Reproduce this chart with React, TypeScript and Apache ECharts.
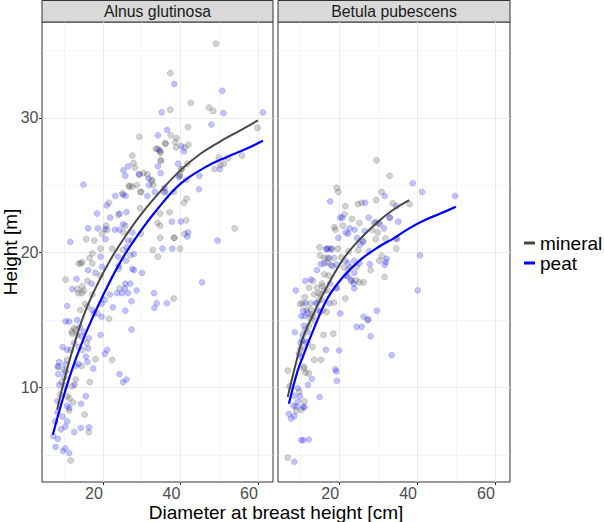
import React, { useEffect, useRef } from "react";
import * as echarts from "echarts";

// Facet titles and soil groups
const panels = ["Alnus glutinosa", "Betula pubescens"];
const soils = ["mineral", "peat"];

// Tick positions
const xTicks = [20, 40, 60];
const yTicks = [10, 20, 30];

// Individual trees: [diameter at breast height (cm), height (m)]
const alnusMineral = [
  [49.2, 35.5], [37.4, 33.3], [42.7, 31.1], [37.4, 30.6], [47.4, 30.75], [48.5, 30.5], [42.0, 29.3], [29.4, 28.6],
  [37.5, 28.7], [59.9, 29.25], [36.1, 28.1], [38.7, 28.2], [38.9, 27.8], [41.1, 27.8], [33.7, 27.7], [55.9, 27.2],
  [52.3, 27.0], [51.2, 26.6], [41.6, 24.0], [40.9, 23.7], [41.5, 22.4], [41.1, 21.4], [54.0, 21.8], [39.9, 20.3],
  [38.5, 21.1], [37.2, 23.0], [39.0, 28.5], [42.1, 28.0], [36.2, 28.1], [34.1, 27.7], [34.8, 27.5], [35.0, 26.8],
  [40.2, 26.2], [39.9, 25.8], [27.6, 27.2], [27.9, 26.65], [28.3, 26.3], [29.3, 25.8], [30.5, 25.9], [31.5, 25.8],
  [32.6, 25.4], [33.0, 25.0], [26.9, 24.95], [27.6, 24.9], [28.8, 25.0], [29.7, 24.5], [35.8, 24.5], [29.6, 23.3],
  [21.6, 23.7], [25.0, 24.4], [34.8, 22.9], [34.1, 22.2], [34.8, 22.0], [34.8, 21.1], [38.3, 21.1], [34.2, 19.7],
  [32.9, 20.2], [27.5, 20.9], [25.3, 21.5], [29.8, 21.4], [19.8, 21.4], [21.1, 21.7], [17.8, 20.9], [25.2, 20.2],
  [15.7, 21.0], [16.5, 19.6], [32.7, 25.3], [26.7, 24.9], [29.9, 24.5], [24.0, 22.8], [20.9, 22.0], [25.8, 22.0],
  [22.4, 20.3], [19.4, 20.3], [17.3, 19.95], [27.1, 19.8], [34.9, 27.4], [34.9, 26.85], [41.8, 26.6], [40.4, 26.2],
  [39.8, 25.7], [41.5, 25.4], [49.9, 27.05], [48.8, 26.2], [50.3, 26.5], [38.3, 24.5], [10.4, 18.0], [13.4, 17.3],
  [13.7, 17.0], [15.1, 17.2], [14.7, 17.5], [16.0, 17.9], [14.3, 19.2], [14.7, 19.3], [17.3, 19.2], [19.4, 18.3],
  [24.1, 18.8], [24.3, 17.35], [17.3, 16.9], [15.4, 16.2], [16.0, 16.0], [21.6, 15.1], [18.6, 15.5], [12.6, 14.4],
  [13.0, 14.3], [11.96, 14.15], [12.1, 14.0], [13.4, 13.9], [15.8, 13.3], [13.8, 13.0], [14.7, 12.8], [11.7, 12.8],
  [18.1, 12.1], [22.4, 12.05], [14.5, 11.6], [9.4, 10.4], [13.0, 10.6], [12.1, 10.1], [16.6, 10.4], [10.8, 9.35],
  [11.4, 9.2], [12.3, 8.9], [11.3, 8.3], [15.3, 8.0], [16.4, 6.7], [11.7, 4.6], [38.3, 16.6], [10.8, 12.05],
  [9.9, 11.3], [8.6, 11.55], [9.0, 9.5], [10.3, 10.1], [14.2, 15.75], [14.6, 17.0], [13.8, 19.2],
];

const alnusPeat = [
  [38.4, 32.5], [50.8, 32.0], [35.2, 30.4], [51.1, 30.35], [61.3, 30.4], [48.0, 29.5], [36.6, 29.1], [34.2, 28.7],
  [40.2, 27.9], [34.6, 27.6], [50.2, 26.2], [44.9, 25.7], [44.8, 24.7], [40.1, 22.3], [42.0, 21.5], [41.8, 21.2],
  [49.6, 20.9], [37.9, 20.3], [40.9, 27.5], [34.2, 26.4], [34.9, 25.9], [39.4, 26.6], [39.6, 25.6], [25.3, 26.1],
  [31.8, 25.5], [33.4, 24.5], [31.9, 25.0], [31.5, 24.2], [35.9, 24.8], [25.8, 25.7], [25.9, 24.2], [21.0, 23.5],
  [23.2, 24.2], [15.0, 25.05], [18.5, 22.9], [21.9, 22.6], [24.3, 22.9], [26.1, 23.0], [37.8, 22.3], [35.4, 20.3],
  [25.2, 22.1], [20.6, 21.75], [18.7, 21.8], [23.1, 21.7], [26.5, 20.9], [26.2, 20.4], [16.2, 21.8], [11.6, 20.8],
  [26.5, 26.4], [29.4, 25.8], [25.2, 24.3], [24.3, 21.7], [27.6, 21.5], [20.7, 21.0], [19.4, 19.7], [23.9, 19.7],
  [26.0, 19.4], [28.0, 19.9], [36.1, 24.5], [10.8, 16.05], [12.1, 17.3], [13.2, 18.05], [17.1, 17.7], [16.2, 18.7],
  [18.1, 18.5], [19.8, 18.95], [24.1, 19.0], [27.6, 18.8], [28.0, 18.7], [30.1, 18.5], [25.8, 17.7], [27.1, 17.7],
  [25.7, 17.35], [28.7, 17.2], [23.7, 17.0], [25.0, 17.0], [26.5, 17.0], [21.8, 16.9], [27.4, 16.4], [19.7, 16.2],
  [20.5, 16.5], [22.6, 15.95], [25.8, 15.7], [27.4, 14.3], [17.3, 15.75], [17.7, 15.5], [19.7, 15.25], [10.4, 14.9],
  [11.3, 14.9], [13.4, 15.0], [14.1, 14.5], [15.0, 14.15], [14.5, 13.8], [16.4, 13.65], [19.4, 13.9], [12.6, 13.3],
  [9.6, 13.0], [10.8, 12.8], [16.2, 12.9], [21.1, 12.8], [20.5, 12.5], [15.6, 12.3], [16.0, 11.9], [8.7, 11.9],
  [8.3, 11.55], [10.3, 11.7], [13.0, 11.6], [13.7, 11.75], [17.5, 11.4], [8.5, 11.0], [8.7, 10.2], [10.0, 10.8],
  [10.4, 11.2], [12.7, 10.2], [15.6, 9.35], [8.3, 9.0], [14.4, 8.8], [10.8, 8.65], [11.3, 8.5], [9.6, 7.85],
  [8.3, 8.15], [7.7, 7.5], [10.8, 7.5], [10.3, 7.1], [9.2, 6.9], [12.6, 6.7], [14.3, 7.0], [16.4, 7.05],
  [8.4, 6.2], [7.8, 5.6], [9.7, 5.3], [10.3, 5.5], [11.3, 5.15], [7.2, 6.4], [24.3, 11.0], [25.2, 10.4],
  [26.1, 10.6], [45.6, 17.8], [33.2, 17.0], [33.9, 16.25], [33.3, 15.9], [36.5, 16.25],
];

const betulaMineral = [
  [29.6, 26.85], [33.0, 25.7], [19.4, 24.8], [19.8, 24.5], [21.6, 23.45], [24.8, 23.6], [25.8, 23.7], [29.5, 23.9],
  [30.9, 24.5], [33.8, 23.65], [38.1, 23.6], [21.4, 22.85], [18.8, 21.9], [23.3, 22.5], [25.2, 22.2], [28.5, 21.7],
  [30.4, 22.1], [33.0, 22.6], [31.9, 21.05], [29.4, 21.0], [34.7, 20.3], [15.0, 20.4], [19.7, 20.3], [19.0, 21.7],
  [21.0, 22.0], [29.0, 22.2], [29.9, 21.5], [26.0, 20.9], [34.6, 21.05], [24.9, 20.2], [15.1, 19.8], [17.3, 20.3],
  [18.1, 20.25], [22.4, 20.1], [31.0, 19.75], [16.2, 19.6], [17.0, 19.6], [18.7, 19.6], [20.6, 19.65], [17.0, 19.25],
  [17.9, 19.1], [22.9, 18.9], [24.5, 18.95], [30.3, 19.4], [28.1, 18.7], [21.2, 18.9], [22.3, 18.7], [16.2, 18.4],
  [17.3, 18.3], [31.7, 18.2], [23.2, 17.9], [24.3, 17.95], [13.3, 17.9], [25.2, 17.8], [26.3, 17.8], [12.3, 17.4],
  [14.3, 17.4], [15.6, 17.7], [15.7, 17.5], [16.2, 17.2], [17.0, 17.2], [19.2, 17.35], [11.2, 16.7], [13.6, 16.9],
  [14.7, 17.0], [15.3, 16.9], [14.9, 16.5], [15.6, 16.5], [10.0, 16.2], [10.6, 16.25], [12.6, 16.25], [15.9, 15.75],
  [16.8, 15.6], [18.7, 16.3], [21.6, 16.6], [11.7, 15.75], [12.7, 15.8], [12.9, 15.4], [13.4, 15.3], [12.6, 15.1],
  [13.8, 14.9], [12.3, 14.6], [11.2, 14.3], [27.3, 15.0], [16.0, 13.9], [18.5, 14.0], [11.9, 13.3], [13.2, 13.0],
  [10.0, 12.85], [11.0, 12.9], [13.6, 12.05], [15.3, 12.05], [11.0, 11.55], [6.8, 11.25], [9.8, 9.7], [11.1, 8.96],
  [9.0, 8.3], [10.3, 8.35], [11.4, 11.1], [12.2, 11.05], [10.9, 11.4], [6.8, 4.8],
];

const betulaPeat = [
  [38.9, 25.15], [41.3, 24.5], [49.8, 24.2], [17.7, 23.8], [26.7, 23.7], [31.7, 24.2], [34.7, 23.45], [20.3, 22.6],
  [20.8, 22.6], [22.7, 21.8], [24.0, 21.7], [27.6, 22.6], [29.4, 22.25], [31.5, 21.8], [35.2, 22.3], [19.8, 21.1],
  [24.6, 21.1], [34.9, 21.0], [16.7, 20.3], [18.0, 20.3], [30.2, 22.2], [33.0, 22.6], [21.7, 21.5], [22.3, 21.4],
  [26.6, 21.6], [25.4, 20.6], [26.2, 20.8], [16.8, 20.25], [27.7, 20.1], [32.2, 19.55], [40.8, 19.8], [17.5, 19.6],
  [15.3, 19.15], [16.2, 19.2], [18.3, 19.0], [19.4, 19.1], [21.6, 19.4], [22.3, 19.2], [23.9, 19.4], [25.2, 19.2],
  [27.9, 19.15], [31.7, 19.1], [32.0, 19.3], [14.3, 18.7], [21.7, 18.3], [22.2, 18.25], [23.9, 18.5], [23.0, 18.0],
  [11.3, 17.9], [12.7, 18.0], [23.7, 17.7], [40.2, 17.2], [8.9, 17.2], [17.7, 17.7], [19.4, 17.4], [23.9, 17.35],
  [11.4, 16.25], [14.0, 16.25], [14.4, 16.25], [17.5, 16.25], [20.3, 15.5], [14.4, 15.75], [15.1, 15.6], [10.8, 15.7],
  [11.2, 15.3], [10.3, 15.3], [11.9, 15.5], [11.0, 14.6], [8.6, 14.1], [11.9, 14.15], [10.7, 13.9], [29.7, 15.7],
  [26.3, 15.25], [27.5, 15.05], [24.5, 14.5], [25.8, 14.5], [28.1, 13.8], [20.0, 12.75], [16.6, 12.8], [10.5, 13.5],
  [10.1, 13.3], [11.4, 13.4], [9.7, 12.5], [10.2, 12.3], [19.0, 11.35], [33.5, 12.4], [7.25, 10.1], [9.4, 9.95],
  [8.5, 9.4], [10.0, 9.35], [9.4, 8.96], [8.3, 8.65], [9.0, 8.6], [10.7, 8.55], [11.1, 8.55], [7.1, 8.05],
  [7.7, 7.7], [8.5, 7.9], [10.3, 6.1], [10.8, 6.1], [12.2, 6.15], [8.5, 4.5], [12.0, 10.2], [13.0, 10.65],
  [15.0, 9.3], [19.3, 11.2], [19.4, 10.5],
];

// Fitted height curves per soil group: [diameter (cm), height (m)]
const alnusMineralFit = [
  [8.2, 8.35], [10, 10.5], [12, 12.6], [15, 15.3], [18.5, 17.6], [22, 19.5], [26, 21.3], [30, 22.9],
  [35, 24.6], [40, 26.1], [45, 27.3], [50, 28.2], [55, 29.0], [60, 29.8],
];
const alnusPeatFit = [
  [7.1, 6.5], [9, 8.5], [11, 10.4], [13, 12.1], [16, 14.3], [20, 16.8], [24.5, 19.3], [29, 21.3],
  [34, 23.2], [40, 25.1], [46.8, 26.4], [52, 27.1], [57, 27.7], [61.3, 28.3],
];
const betulaMineralFit = [
  [6.8, 9.3], [8.9, 11.8], [10.7, 13.7], [13, 15.2], [16, 17.0], [21, 19.5], [25, 20.9], [30, 22.3],
  [34, 23.2], [38, 23.9],
];
const betulaPeatFit = [
  [7.1, 8.8], [9.3, 11.2], [10.7, 12.3], [13, 14.0], [17, 16.6], [21, 18.2], [25.6, 19.5], [30, 20.4],
  [34.2, 21.1], [38, 21.8], [41.9, 22.4], [46, 22.9], [50, 23.4],
];

const FONT = "'Liberation Sans', Arial, Helvetica, sans-serif";
const MINERAL_LINE = "#474747";
const PEAT_LINE = "#0000ff";

const gridRects = [
  { left: 42, top: 22, width: 231, height: 460 },
  { left: 278, top: 22, width: 232, height: 460 },
];

function xAxisFor(gridIndex: number) {
  return {
    type: "value",
    gridIndex,
    min: 4.3,
    max: 63.9,
    splitNumber: 3,
    axisLine: { show: false },
    axisTick: {
      show: true,
      length: 3,
      customValues: xTicks,
      lineStyle: { color: "#333333", width: 1 },
    },
    axisLabel: {
      customValues: xTicks,
      align: "right",
      margin: 4,
      color: "#4d4d4d",
      fontSize: 16,
      lineHeight: 15,
      fontFamily: FONT,
    },
    splitLine: { show: true, lineStyle: { color: "#ebebeb", width: 1 } },
    minorTick: { show: false, splitNumber: 2 },
    minorSplitLine: { show: true, lineStyle: { color: "#ebebeb", width: 0.5 } },
  };
}

function yAxisFor(gridIndex: number, labelled: boolean) {
  return {
    type: "value",
    gridIndex,
    min: 3,
    max: 37.1,
    splitNumber: 3,
    axisLine: { show: false },
    axisTick: {
      show: labelled,
      length: 3,
      customValues: yTicks,
      lineStyle: { color: "#333333", width: 1 },
    },
    axisLabel: {
      show: labelled,
      customValues: yTicks,
      margin: 3.5,
      color: "#4d4d4d",
      fontSize: 16,
      fontFamily: FONT,
    },
    splitLine: { show: true, lineStyle: { color: "#ebebeb", width: 1 } },
    minorTick: { show: false, splitNumber: 2 },
    minorSplitLine: { show: true, lineStyle: { color: "#ebebeb", width: 0.5 } },
  };
}

function pointSeries(name: string, data: number[][], idx: number, peat: boolean) {
  return {
    type: "scatter",
    name,
    xAxisIndex: idx,
    yAxisIndex: idx,
    data,
    symbol: "circle",
    symbolSize: 6,
    z: 2,
    itemStyle: peat
      ? { color: "rgba(0,0,255,0.3)", borderColor: "rgba(0,0,200,0.22)", borderWidth: 0.8 }
      : { color: "rgba(70,70,70,0.3)", borderColor: "rgba(50,50,50,0.28)", borderWidth: 0.8 },
    emphasis: { disabled: true },
  };
}

function fitSeries(name: string, data: number[][], idx: number, color: string, width: number) {
  return {
    type: "line",
    name,
    xAxisIndex: idx,
    yAxisIndex: idx,
    data,
    smooth: 0.4,
    symbol: "none",
    z: 5,
    lineStyle: { color, width },
    itemStyle: { color },
    emphasis: { disabled: true },
  };
}

export default function App() {
  const ref = useRef<HTMLDivElement>(null);

  useEffect(() => {
    if (!ref.current) return;
    const chart = echarts.init(ref.current, null, { renderer: "svg" });

    const strips: any[] = [];
    panels.forEach((title, i) => {
      const g = gridRects[i];
      strips.push({
        type: "rect",
        shape: { x: g.left, y: 0.5, width: g.width, height: g.top - 0.5 },
        style: { fill: "#d9d9d9", stroke: "#333333", lineWidth: 1 },
        silent: true,
      });
      strips.push({
        type: "text",
        x: g.left + g.width / 2,
        y: 11.5,
        style: {
          text: title,
          fill: "#1a1a1a",
          font: `15.8px ${FONT}`,
          align: "center",
          verticalAlign: "middle",
        },
        silent: true,
      });
    });

    const option: any = {
      animation: false,
      backgroundColor: "#ffffff",
      grid: gridRects.map((g) => ({
        ...g,
        show: true,
        backgroundColor: "#ffffff",
        borderColor: "#333333",
        borderWidth: 1,
        containLabel: false,
      })),
      xAxis: [xAxisFor(0), xAxisFor(1)],
      yAxis: [yAxisFor(0, true), yAxisFor(1, false)],
      legend: {
        data: [
          { name: soils[0], itemStyle: { color: MINERAL_LINE } },
          { name: soils[1], itemStyle: { color: PEAT_LINE } },
        ],
        orient: "vertical",
        left: 524,
        top: 233.5,
        padding: 0,
        icon: "rect",
        itemWidth: 11,
        itemHeight: 3,
        itemGap: 1,
        selectedMode: false,
        textStyle: { fontSize: 19, lineHeight: 19, color: "#000000", fontFamily: FONT, overflow: "none" },
      },
      series: [
        pointSeries("mineral trees", alnusMineral, 0, false),
        pointSeries("peat trees", alnusPeat, 0, true),
        pointSeries("mineral trees", betulaMineral, 1, false),
        pointSeries("peat trees", betulaPeat, 1, true),
        fitSeries(soils[0], alnusMineralFit, 0, MINERAL_LINE, 2),
        fitSeries(soils[1], alnusPeatFit, 0, PEAT_LINE, 2.2),
        fitSeries(soils[0], betulaMineralFit, 1, MINERAL_LINE, 2),
        fitSeries(soils[1], betulaPeatFit, 1, PEAT_LINE, 2.2),
      ],
      graphic: [
        ...strips,
        {
          type: "text",
          x: 276,
          y: 512,
          style: {
            text: "Diameter at breast height [cm]",
            fill: "#000000",
            font: `19px ${FONT}`,
            lineHeight: 19,
            align: "center",
            verticalAlign: "middle",
          },
          silent: true,
        },
        {
          type: "text",
          x: 10.5,
          y: 252,
          rotation: Math.PI / 2,
          style: {
            text: "Height [m]",
            fill: "#000000",
            font: `19px ${FONT}`,
            align: "center",
            verticalAlign: "middle",
          },
          silent: true,
        },
      ],
    };

    chart.setOption(option);
    return () => chart.dispose();
  }, []);

  return (
    <div
      ref={ref}
      style={{ position: "absolute", left: 0, top: 0, width: 604, height: 522, background: "#ffffff" }}
    />
  );
}
